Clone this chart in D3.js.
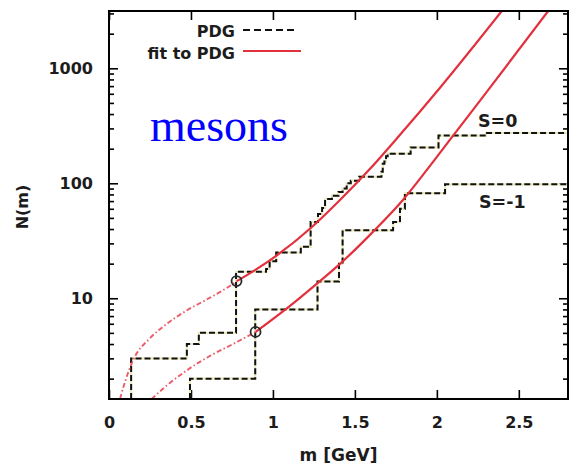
<!DOCTYPE html>
<html>
<head>
<meta charset="utf-8">
<script src="https://cdn.jsdelivr.net/npm/d3@7"></script>
<style>
  body { margin: 0; background: #fff; }
  svg { display: block; }
</style>
</head>
<body>
<svg id="chart" width="573" height="471"></svg>
<script>
// Cumulative number of meson states N(m) below mass m.
// PDG staircases: mass where each step occurs [GeV] and the count after it.
const s0Mass  = [0.135, 0.475, 0.548, 0.775, 0.958, 0.980, 1.020, 1.170, 1.230, 1.275, 1.300,
                 1.318, 1.360, 1.400, 1.425, 1.450, 1.475, 1.525, 1.662, 1.670, 1.680, 1.690,
                 1.700, 1.840, 2.010, 2.300];
const s0Count = [3, 4, 5, 17, 18, 21, 25, 28, 46, 54, 61,
                 73, 78, 84, 90, 100, 105, 114, 126, 148, 155, 172,
                 181, 205, 260, 274];

const sm1Mass  = [0.494, 0.892, 1.272, 1.403, 1.425, 1.733, 1.775, 1.805, 2.050];
const sm1Count = [2, 8, 14, 20, 39, 46, 60, 82, 98];

// Fitted spectra: extrapolation below the anchor state (dash-dot) and fit above it (solid).
const fitS0LowMass  = [0.067, 0.098, 0.148, 0.250, 0.352, 0.474, 0.596, 0.718, 0.780];
const fitS0LowN     = [1.33, 1.88, 2.91, 4.49, 5.98, 7.83, 9.76, 12.3, 14.1];
const fitS0Mass     = [0.780, 0.994, 1.238, 1.409, 1.591, 1.774, 2.018, 2.396];
const fitS0N        = [14.1, 22.0, 41.7, 71.6, 133, 263, 675, 3150];

const fitSm1LowMass = [0.260, 0.352, 0.474, 0.616, 0.758, 0.895];
const fitSm1LowN    = [1.33, 1.74, 2.36, 3.15, 4.01, 5.09];
const fitSm1Mass    = [0.895, 1.104, 1.274, 1.409, 1.610, 1.793, 1.939, 2.098, 2.323, 2.679];
const fitSm1N       = [5.09, 8.57, 13.6, 19.9, 37.8, 71.6, 130.6, 258, 675, 3150];

// Anchor states where the fits start (rho for S=0, K* for S=-1)
const anchorMass = [0.778, 0.894];
const anchorN    = [14.1, 5.1];

// Axes
const xDomain = [0, 2.8];
const yDomain = [1.33, 3150];
const xTickValues = [0, 0.5, 1, 1.5, 2, 2.5];
const yTickValues = [10, 100, 1000];
const yMinorValues = [2, 3, 4, 5, 6, 7, 8, 9, 20, 30, 40, 50, 60, 70, 80, 90,
                      200, 300, 400, 500, 600, 700, 800, 900, 2000, 3000];

const svg = d3.select("#chart");
const plot = { left: 109, right: 568, top: 11, bottom: 399 };

const x = d3.scaleLinear().domain(xDomain).range([plot.left, plot.right]);
const y = d3.scaleLog().domain(yDomain).range([plot.bottom, plot.top]);

const FONT = "'DejaVu Sans', Verdana, sans-serif";
const TEXT = "#1c1c1c";

svg.append("defs").append("clipPath").attr("id", "plotClip")
  .append("rect")
  .attr("x", plot.left).attr("y", plot.top)
  .attr("width", plot.right - plot.left).attr("height", plot.bottom - plot.top);

// ---- axes (ticks point inward on all four sides) ----
function styleAxis(g) {
  g.select(".domain").remove();
  g.selectAll(".tick line").attr("stroke", "#000").attr("stroke-width", 1.6);
  g.selectAll(".tick text")
    .attr("font-family", FONT).attr("font-size", 16).attr("font-weight", "bold")
    .attr("fill", TEXT);
}

svg.append("g")
  .attr("transform", `translate(0,${plot.bottom})`)
  .call(d3.axisBottom(x).tickValues(xTickValues).tickSize(-9).tickPadding(18)
        .tickFormat(d3.format("")))
  .call(styleAxis);

svg.append("g")
  .attr("transform", `translate(0,${plot.top})`)
  .call(d3.axisTop(x).tickValues(xTickValues).tickSize(-9).tickFormat(""))
  .call(styleAxis);

svg.append("g")
  .attr("transform", `translate(${plot.left},0)`)
  .call(d3.axisLeft(y).tickValues(yTickValues).tickSize(-9).tickPadding(16)
        .tickFormat(d3.format("d")))
  .call(styleAxis);

svg.append("g")
  .attr("transform", `translate(${plot.left},0)`)
  .call(d3.axisLeft(y).tickValues(yMinorValues).tickSize(-5).tickFormat(""))
  .call(styleAxis);

svg.append("g")
  .attr("transform", `translate(${plot.right},0)`)
  .call(d3.axisRight(y).tickValues(yTickValues).tickSize(-9).tickFormat(""))
  .call(styleAxis);

svg.append("g")
  .attr("transform", `translate(${plot.right},0)`)
  .call(d3.axisRight(y).tickValues(yMinorValues).tickSize(-5).tickFormat(""))
  .call(styleAxis);

// ---- PDG staircases ----
function stairs(mass, count) {
  const pts = [[mass[0], yDomain[0]]];
  mass.forEach((m, i) => pts.push([m, count[i]]));
  pts.push([xDomain[1], count[count.length - 1]]);
  return pts;
}
const stepLine = d3.line().x(d => x(d[0])).y(d => y(d[1])).curve(d3.curveStepAfter);

const data = svg.append("g").attr("clip-path", "url(#plotClip)");

[stairs(s0Mass, s0Count), stairs(sm1Mass, sm1Count)].forEach(pts => {
  data.append("path").attr("d", stepLine(pts))
    .attr("fill", "none").attr("stroke", "#ebe9bd").attr("stroke-width", 2.2);
  data.append("path").attr("d", stepLine(pts))
    .attr("fill", "none").attr("stroke", "#111").attr("stroke-width", 2)
    .attr("stroke-dasharray", "6,3");
});

// ---- fits ----
const fitLine = d3.line().x(d => x(d[0])).y(d => y(d[1])).curve(d3.curveMonotoneX);
const zip = (a, b) => a.map((v, i) => [v, b[i]]);

[zip(fitS0LowMass, fitS0LowN), zip(fitSm1LowMass, fitSm1LowN)].forEach(pts => {
  data.append("path").attr("d", fitLine(pts))
    .attr("fill", "none").attr("stroke", "#e8414f").attr("stroke-width", 1.9)
    .attr("stroke-opacity", 0.85)
    .attr("stroke-dasharray", "5,2.5,1.5,2.5");
});

[zip(fitS0Mass, fitS0N), zip(fitSm1Mass, fitSm1N)].forEach(pts => {
  data.append("path").attr("d", fitLine(pts))
    .attr("fill", "none").attr("stroke", "#e2303d").attr("stroke-width", 2.2);
});

// anchor states
svg.append("g").selectAll("circle")
  .data(zip(anchorMass, anchorN))
  .join("circle")
  .attr("cx", d => x(d[0])).attr("cy", d => y(d[1])).attr("r", 5)
  .attr("fill", "none").attr("stroke", "#2a2a2a").attr("stroke-width", 1.8);

// ---- frame ----
svg.append("rect")
  .attr("x", plot.left).attr("y", plot.top)
  .attr("width", plot.right - plot.left).attr("height", plot.bottom - plot.top)
  .attr("fill", "none").attr("stroke", "#000").attr("stroke-width", 2);

// ---- labels ----
svg.append("text")
  .attr("transform", `translate(28,${(plot.top + plot.bottom) / 2 + 2}) rotate(-90)`)
  .attr("text-anchor", "middle")
  .attr("font-family", FONT).attr("font-size", 16).attr("font-weight", "bold")
  .attr("fill", TEXT).text("N(m)");

svg.append("text")
  .attr("x", (plot.left + plot.right) / 2).attr("y", 461)
  .attr("text-anchor", "middle")
  .attr("font-family", FONT).attr("font-size", 17).attr("font-weight", "bold")
  .attr("fill", TEXT).text("m [GeV]");

svg.append("text")
  .attr("x", 150).attr("y", 141)
  .attr("font-family", "'Liberation Serif', 'Times New Roman', serif")
  .attr("font-size", 46).attr("fill", "#0000ff").text("mesons");

svg.append("text")
  .attr("x", 478).attr("y", 127)
  .attr("font-family", FONT).attr("font-size", 17.5).attr("font-weight", "bold")
  .attr("fill", TEXT).text("S=0");

svg.append("text")
  .attr("x", 479).attr("y", 208)
  .attr("font-family", FONT).attr("font-size", 17.5).attr("font-weight", "bold")
  .attr("fill", TEXT).text("S=-1");

// ---- legend ----
const legend = svg.append("g");
legend.append("text")
  .attr("x", 235).attr("y", 37).attr("text-anchor", "end")
  .attr("font-family", FONT).attr("font-size", 16).attr("font-weight", "bold")
  .attr("fill", TEXT).text("PDG");
legend.append("line")
  .attr("x1", 243).attr("x2", 294).attr("y1", 30).attr("y2", 30)
  .attr("stroke", "#111").attr("stroke-width", 2).attr("stroke-dasharray", "7,4");
legend.append("text")
  .attr("x", 235).attr("y", 59).attr("text-anchor", "end")
  .attr("font-family", FONT).attr("font-size", 16).attr("font-weight", "bold")
  .attr("fill", TEXT).text("fit to PDG");
legend.append("line")
  .attr("x1", 243).attr("x2", 301).attr("y1", 51).attr("y2", 51)
  .attr("stroke", "#e2303d").attr("stroke-width", 2.2);
</script>
</body>
</html>
